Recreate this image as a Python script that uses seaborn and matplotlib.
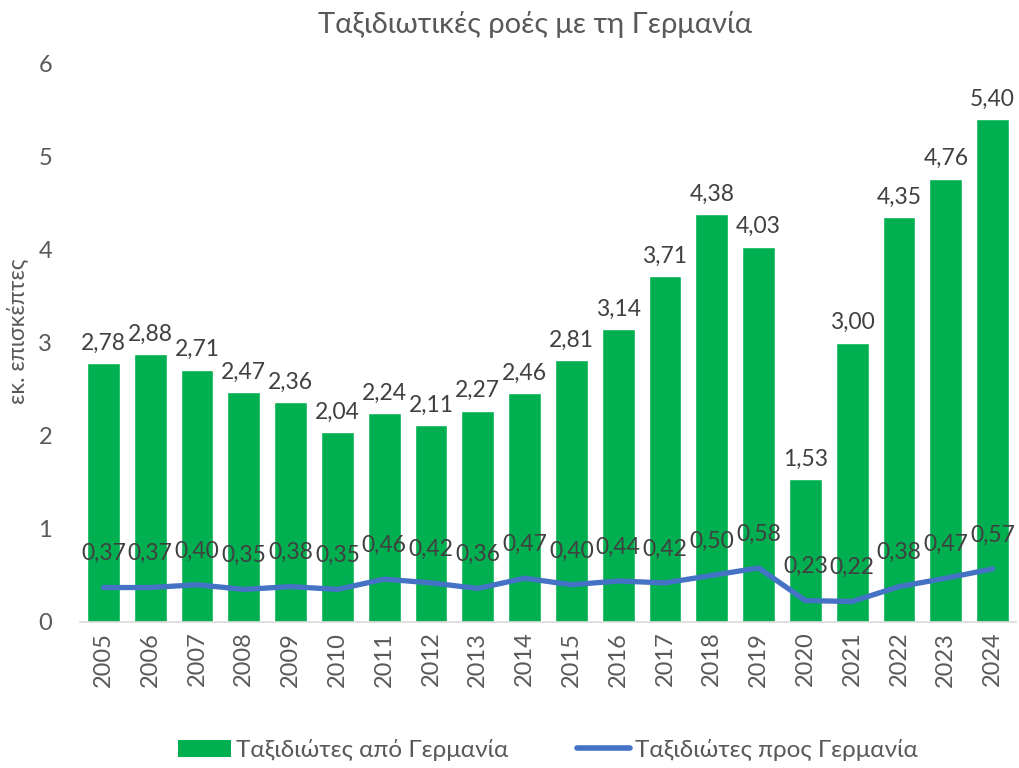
import matplotlib
matplotlib.use("Agg")
import matplotlib.pyplot as plt
import seaborn as sns
import pandas as pd
import numpy as np
from matplotlib.patches import Patch
from matplotlib.lines import Line2D

years = [str(y) for y in range(2005, 2025)]
from_germany = [2.78, 2.88, 2.71, 2.47, 2.36, 2.04, 2.24, 2.11, 2.27, 2.46,
                2.81, 3.14, 3.71, 4.38, 4.03, 1.53, 3.00, 4.35, 4.76, 5.40]
to_germany = [0.37, 0.37, 0.40, 0.35, 0.38, 0.35, 0.46, 0.42, 0.36, 0.47,
              0.40, 0.44, 0.42, 0.50, 0.58, 0.23, 0.22, 0.38, 0.47, 0.57]

title = "Ταξιδιωτικές ροές με τη Γερμανία"
ylabel = "εκ. επισκέπτες"
bar_name = "Ταξιδιώτες από Γερμανία"
line_name = "Ταξιδιώτες προς Γερμανία"

sns.set_theme(style="white")
plt.rcParams['font.family'] = ['Lato', 'DejaVu Sans']

green = "#00B050"
blue = "#4472C4"
tcol = "#404040"
gcol = "#595959"

df = pd.DataFrame({"year": years, "from": from_germany, "to": to_germany})

fig = plt.figure(figsize=(10.19, 7.68), dpi=100)
ax = fig.add_axes([80/1019, 1-622/768, 936/1019, (622-63)/768])

sns.barplot(data=df, x="year", y="from", color=green, width=0.7,
            saturation=1, ax=ax)
x = np.arange(len(years))
sns.lineplot(x=x, y=to_germany, color=blue, linewidth=3.8, ax=ax)

fmt = lambda v: f"{v:.2f}".replace(".", ",")
for i, v in enumerate(from_germany):
    ax.text(i, v + 0.1, fmt(v), ha="center", va="bottom", fontsize=16.5, color=tcol)
for i, v in enumerate(to_germany):
    ax.text(i, v + 0.25, fmt(v), ha="center", va="bottom", fontsize=16.5, color=tcol)

ax.set_xlim(-0.5, len(years) - 0.5)
ax.set_ylim(0, 6)
ax.set_yticks(range(0, 7))
ax.set_xlabel("")
ax.set_ylabel(ylabel, fontsize=16.5, color=gcol)
ax.yaxis.set_label_coords(-0.055, 0.52)
ax.tick_params(axis="y", labelsize=17, colors=gcol, length=0, pad=20)
ax.tick_params(axis="x", labelsize=17, colors=gcol, length=0, rotation=90, pad=7)
for s in ["top", "right", "left"]:
    ax.spines[s].set_visible(False)
ax.spines["bottom"].set_color("#D9D9D9")
ax.spines["bottom"].set_linewidth(1.2)
ax.grid(False)

fig.text(535/1019, 1 - 25/768, title, ha="center", va="center", fontsize=21, color=gcol)

handles = [Patch(facecolor=green, edgecolor="none"),
           Line2D([0], [0], color=blue, linewidth=4, solid_capstyle="round")]
fig.legend(handles, [bar_name, line_name], loc="center",
           bbox_to_anchor=(548/1019, 1 - 750/768), ncol=2,
           frameon=False, fontsize=17.5, labelcolor=gcol, handlelength=2.2,
           columnspacing=2.8, handletextpad=0.2)

fig.savefig("out.png", dpi=100)
